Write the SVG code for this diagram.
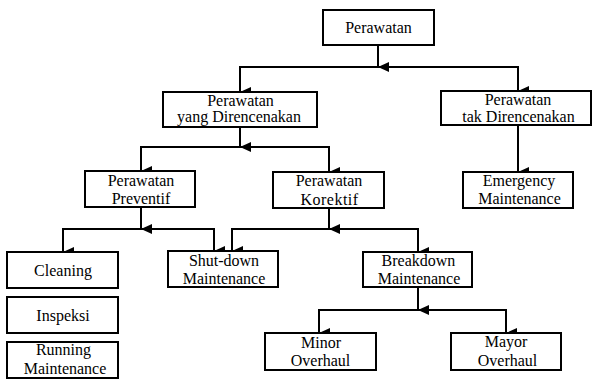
<svg xmlns="http://www.w3.org/2000/svg" width="594" height="379" viewBox="0 0 594 379">
<defs>
<marker id="ah" markerUnits="userSpaceOnUse" markerWidth="10" markerHeight="11" refX="5" refY="11" orient="auto" viewBox="0 0 10 11">
<path d="M0,0 L10,0 L5,11 Z" fill="#000"/>
</marker>
</defs>
<style>
rect{fill:#fff;stroke:#000;stroke-width:2}
text{font-family:'Liberation Serif','Times New Roman',serif;font-size:16px;fill:#000;text-anchor:middle}
.c line{stroke:#000;stroke-width:2}
.a{marker-end:url(#ah)}
</style>
<rect x="0" y="0" width="594" height="379" style="fill:#fff;stroke:none"/>
<g class="c" id="connectors">
<line x1="378" y1="45" x2="378" y2="67" class="a"/>
<line x1="239" y1="67" x2="519" y2="67"/>
<line x1="240" y1="67" x2="240" y2="92" class="a"/>
<line x1="518" y1="67" x2="518" y2="91" class="a"/>
<line x1="240" y1="127" x2="240" y2="147" class="a"/>
<line x1="140" y1="147" x2="330" y2="147"/>
<line x1="141" y1="147" x2="141" y2="171" class="a"/>
<line x1="329" y1="147" x2="329" y2="172" class="a"/>
<line x1="518" y1="125" x2="518" y2="172" class="a"/>
<line x1="141" y1="207" x2="141" y2="229" class="a"/>
<line x1="62" y1="229" x2="215" y2="229"/>
<line x1="63" y1="229" x2="63" y2="252" class="a"/>
<line x1="214" y1="229" x2="214" y2="251" class="a"/>
<line x1="329" y1="208" x2="329" y2="229" class="a"/>
<line x1="231" y1="229" x2="419" y2="229"/>
<line x1="232" y1="229" x2="232" y2="251" class="a"/>
<line x1="418" y1="229" x2="418" y2="252" class="a"/>
<line x1="418" y1="287" x2="418" y2="310" class="a"/>
<line x1="318" y1="310" x2="507" y2="310"/>
<line x1="319" y1="310" x2="319" y2="333" class="a"/>
<line x1="506" y1="310" x2="506" y2="333" class="a"/>
</g>
<g id="perawatan">
<rect x="323" y="10" width="111" height="35"/>
<text x="378.5" y="33">Perawatan</text>
</g>
<g id="direncanakan">
<rect x="163" y="92" width="154" height="35"/>
<text x="240.5" y="106">Perawatan</text>
<text x="239" y="122">yang Direncenakan</text>
</g>
<g id="tak-direncanakan">
<rect x="441" y="91" width="150" height="34"/>
<text x="518" y="105">Perawatan</text>
<text x="518.5" y="122">tak Direncenakan</text>
</g>
<g id="preventif">
<rect x="85" y="171" width="110" height="36"/>
<text x="141" y="186">Perawatan</text>
<text x="141" y="204">Preventif</text>
</g>
<g id="korektif">
<rect x="273" y="172" width="111" height="36"/>
<text x="329" y="186">Perawatan</text>
<text x="329.5" y="205" letter-spacing="0.5">Korektif</text>
</g>
<g id="emergency">
<rect x="463" y="172" width="110" height="36"/>
<text x="519" y="186">Emergency</text>
<text x="519.5" y="204">Maintenance</text>
</g>
<g id="cleaning">
<rect x="7" y="252" width="111" height="36"/>
<text x="63" y="276">Cleaning</text>
</g>
<g id="inspeksi">
<rect x="7" y="297" width="111" height="36"/>
<text x="63" y="321">Inspeksi</text>
</g>
<g id="running">
<rect x="7" y="342" width="111" height="36"/>
<text x="63.5" y="355">Running</text>
<text x="65" y="373.5">Maintenance</text>
</g>
<g id="shutdown">
<rect x="168" y="251" width="110" height="36"/>
<text x="224" y="266">Shut-down</text>
<text x="224" y="284">Maintenance</text>
</g>
<g id="breakdown">
<rect x="363" y="252" width="109" height="35"/>
<text x="418.5" y="266">Breakdown</text>
<text x="419" y="284">Maintenance</text>
</g>
<g id="minor">
<rect x="265" y="333" width="111" height="37"/>
<text x="321" y="348">Minor</text>
<text x="320.5" y="366">Overhaul</text>
</g>
<g id="mayor">
<rect x="451" y="333" width="110" height="37"/>
<text x="506" y="347">Mayor</text>
<text x="507.5" y="366">Overhaul</text>
</g>
</svg>
